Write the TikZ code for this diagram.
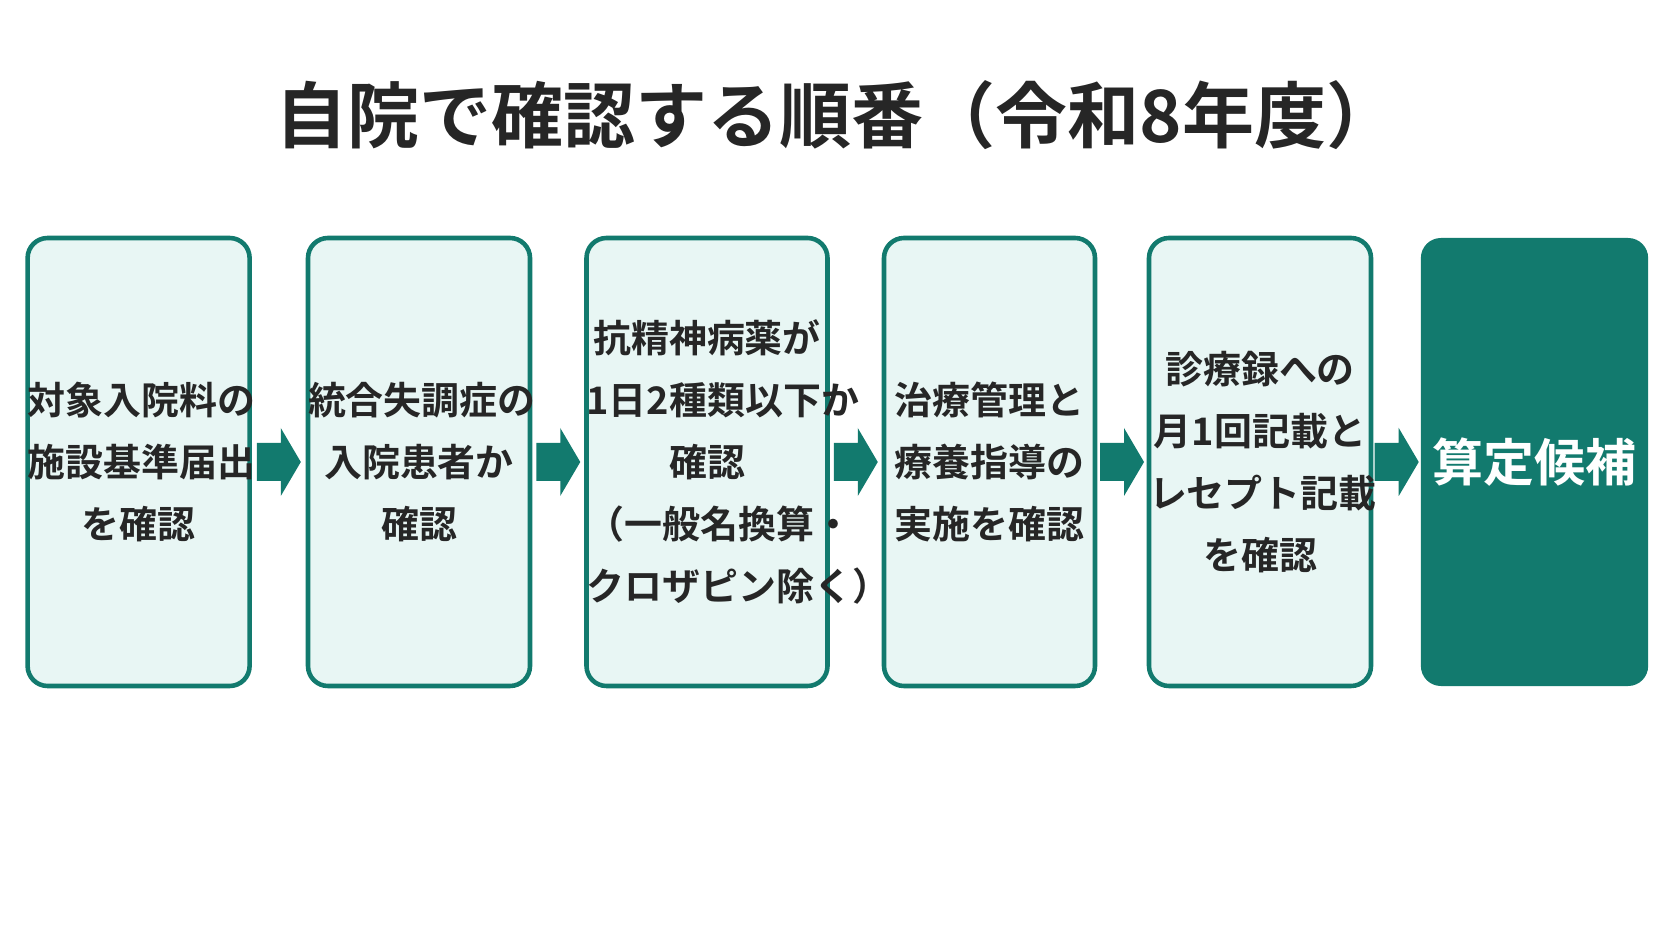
\documentclass[tikz,border=0pt]{standalone}
\usepackage{fontspec}
\newfontfamily\cjk{Noto Sans CJK JP Bold}
\usetikzlibrary{positioning,calc}
\definecolor{tealc}{HTML}{127A6E}
\definecolor{pale}{HTML}{E8F6F4}
\tikzset{
  stepbox/.style={draw=tealc, fill=pale, line width=1.3pt, rounded corners=0.2cm,
    minimum height=4.48cm, align=center, inner xsep=0pt,
    font=\cjk\fontsize{10.8}{17.6}\selectfont, text=black!85},
  goalbox/.style={fill=tealc, rounded corners=0.2cm, minimum height=4.48cm,
    minimum width=2.09cm, font=\cjk\fontsize{14.5}{18}\selectfont, text=white},
  flow/.style={fill=tealc}
}
\begin{document}
\begin{tikzpicture}
\useasboundingbox[fill=white] (0,0) rectangle (16.72,9.41);

% ================= Title =================
\node[font=\cjk\fontsize{20.5}{24}\selectfont, text=black!85] (title) at (8.37,8.26)
  {自院で確認する順番（令和8年度）};

% ================= Steps =================
\node[stepbox, text width=2.22cm] (s1) at (1.386,4.79) {対象入院料の\\施設基準届出\\を確認};
\node[stepbox, text width=2.22cm] (s2) at (4.19,4.79) {統合失調症の\\入院患者か\\確認};
\node[stepbox, text width=2.41cm] (s3) at (7.07,4.79) {抗精神病薬が\\1日2種類以下か\\確認\\（一般名換算・\\クロザピン除く）};
\node[stepbox, text width=2.11cm] (s4) at (9.895,4.79) {治療管理と\\療養指導の\\実施を確認};
\node[stepbox, text width=2.22cm] (s5) at (12.60,4.79) {診療録への\\月1回記載と\\レセプト記載\\を確認};
\node[goalbox] (s6) at (15.345,4.79) {算定候補};

% ================= Arrows =================
\foreach \a/\b in {s1/s2, s2/s3, s3/s4, s4/s5, s5/s6}{
  \coordinate (\a\b) at ($(\a.east)!0.5!(\b.west)$);
  \fill[flow] ($(\a\b)+(-0.22,0.19)$) -- ++(0.24,0) -- ++(0,0.15)
    -- ($(\a\b)+(0.22,0)$) -- ($(\a\b)+(0.02,-0.34)$) -- ++(0,0.15)
    -- ++(-0.24,0) -- cycle;
}
\end{tikzpicture}
\end{document}
